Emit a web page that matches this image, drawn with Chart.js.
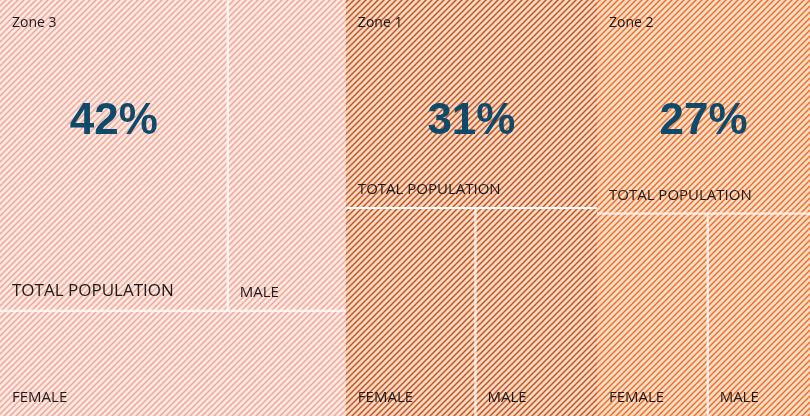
<!DOCTYPE html>
<html>
<head>
<meta charset="utf-8">
<script src="https://cdn.jsdelivr.net/npm/chart.js@4/dist/chart.umd.min.js"></script>
<style>
  html, body { margin: 0; padding: 0; background: #ffffff; }
  #wrap { width: 810px; height: 416px; position: relative; }
</style>
</head>
<body>
<div id="wrap"><canvas id="zoneTreemap"></canvas></div>
<script>
// Population split per zone (share of overall population, %)
const zones = ['Zone 3', 'Zone 1', 'Zone 2'];
const leafLabels = ['TOTAL POPULATION', 'MALE', 'FEMALE'];
const totalPopulation = [42, 31, 27];
const male = [21.8, 15, 12.3];
const female = [21.6, 16, 13.3];

// fill colours for each zone: tint + stripe
const zoneColors = [
  { bg: '#fde9e3', stripe: '#f3a796' },
  { bg: '#f9dac9', stripe: '#c6561c' },
  { bg: '#fddfcb', stripe: '#f16f26' }
];

function stripePattern(ctx, bg, stripe) {
  const tile = document.createElement('canvas');
  tile.width = 6; tile.height = 6;
  const t = tile.getContext('2d');
  t.fillStyle = bg;
  t.fillRect(0, 0, 6, 6);
  t.strokeStyle = stripe;
  t.lineWidth = 1.5;
  t.beginPath();
  t.moveTo(-1, 7); t.lineTo(7, -1);
  t.moveTo(-4, 4); t.lineTo(4, -4);
  t.moveTo(2, 10); t.lineTo(10, 2);
  t.stroke();
  return ctx.createPattern(tile, 'repeat');
}

function ratio(w, h) { return Math.max(w / h, h / w); }

// squarified-style layout: keep growing a row while its leading item gets squarer
function layout(items, rect) {
  const out = [];
  let r = { ...rect };
  let i = 0;
  while (i < items.length) {
    const rest = items.slice(i).reduce((s, d) => s + d.value, 0);
    const wide = r.w >= r.h;
    const side = wide ? r.h : r.w;
    const span = wide ? r.w : r.h;
    const firstRatio = (sum) => {
      const thick = span * sum / rest;
      return ratio(thick, side * items[i].value / sum);
    };
    let sum = items[i].value;
    let j = i + 1;
    while (j < items.length && firstRatio(sum + items[j].value) < firstRatio(sum)) {
      sum += items[j].value;
      j++;
    }
    const thick = j === items.length ? span : span * sum / rest;
    let off = 0;
    for (let k = i; k < j; k++) {
      const len = side * items[k].value / sum;
      out.push(wide
        ? { item: items[k], x: r.x, y: r.y + off, w: thick, h: len }
        : { item: items[k], x: r.x + off, y: r.y, w: len, h: thick });
      off += len;
    }
    r = wide
      ? { x: r.x + thick, y: r.y, w: r.w - thick, h: r.h }
      : { x: r.x, y: r.y + thick, w: r.w, h: r.h - thick };
    i = j;
  }
  return out;
}

const treemapPlugin = {
  id: 'treemapPlugin',
  beforeDatasetsDraw(chart) {
    const { ctx, chartArea, scales } = chart;
    const W = chartArea.width, H = chartArea.height;
    const px = (v) => scales.x.getPixelForValue(v / W);
    const py = (v) => scales.y.getPixelForValue(v / H);

    const zoneItems = zones.map((name, z) => {
      const children = [
        { label: leafLabels[0], value: totalPopulation[z] },
        { label: leafLabels[1], value: male[z] },
        { label: leafLabels[2], value: female[z] }
      ].sort((a, b) => b.value - a.value);
      return { name, z, children, value: children.reduce((s, c) => s + c.value, 0) };
    }).sort((a, b) => b.value - a.value);

    const zoneRects = layout(zoneItems, { x: 0, y: 0, w: W, h: H });

    zoneRects.forEach((zr) => {
      const z = zr.item.z;
      const col = zoneColors[z];
      const zx = px(zr.x), zy = py(zr.y), zw = px(zr.x + zr.w) - zx, zh = py(zr.y + zr.h) - zy;
      const leaves = layout(zr.item.children, { x: zr.x, y: zr.y, w: zr.w, h: zr.h });

      ctx.save();
      ctx.fillStyle = stripePattern(ctx, col.bg, col.stripe);
      ctx.fillRect(zx, zy, zw, zh);

      leaves.forEach((lf) => {
        const x0 = px(lf.x), y0 = py(lf.y), x1 = px(lf.x + lf.w), y1 = py(lf.y + lf.h);
        // soft inner shading along the cell edges
        ctx.save();
        ctx.beginPath();
        ctx.rect(x0, y0, x1 - x0, y1 - y0);
        ctx.clip();
        ctx.shadowColor = col.stripe + '44';
        ctx.shadowBlur = 7;
        ctx.strokeStyle = col.stripe + '33';
        ctx.lineWidth = 6;
        ctx.strokeRect(x0 - 3, y0 - 3, x1 - x0 + 6, y1 - y0 + 6);
        ctx.restore();

        // white gutters between cells inside a zone
        ctx.fillStyle = '#ffffff';
        if (x0 - zx > 0.5) ctx.fillRect(x0, y0, 1, y1 - y0);
        if (zx + zw - x1 > 0.5) ctx.fillRect(x1 - 1, y0, 1, y1 - y0);
        if (y0 - zy > 0.5) ctx.fillRect(x0, y0, x1 - x0, 1);
        if (zy + zh - y1 > 0.5) ctx.fillRect(x0, y1 - 1, x1 - x0, 1);

        // cell label
        const big = lf.item.label === leafLabels[0] && (y1 - y0) > 260;
        ctx.fillStyle = '#1b1b1b';
        ctx.font = (big ? '17px' : '15px') + ' "Open Sans", sans-serif';
        ctx.textAlign = 'left';
        ctx.textBaseline = 'alphabetic';
        ctx.fillText(lf.item.label, x0 + 12, y1 - (big ? 15 : 14));

        if (lf.item.label === leafLabels[0]) {
          ctx.fillStyle = '#0f4a6a';
          ctx.font = 'bold 44px "Liberation Sans", Arial, sans-serif';
          ctx.textAlign = 'center';
          ctx.textBaseline = 'middle';
          ctx.fillText(lf.item.value + '%', (x0 + x1) / 2, zy + 122);
        }
      });

      ctx.fillStyle = '#1b1b1b';
      ctx.font = '14px "Open Sans", sans-serif';
      ctx.textAlign = 'left';
      ctx.textBaseline = 'alphabetic';
      ctx.fillText(zr.item.name, zx + 12, zy + 27);
      ctx.restore();
    });
  }
};

new Chart(document.getElementById('zoneTreemap').getContext('2d'), {
  type: 'scatter',
  data: { datasets: [] },
  options: {
    responsive: true,
    maintainAspectRatio: false,
    animation: false,
    layout: { padding: 0 },
    scales: {
      x: { type: 'linear', min: 0, max: 1, display: false },
      y: { type: 'linear', min: 0, max: 1, reverse: true, display: false }
    },
    plugins: { legend: { display: false }, tooltip: { enabled: false } }
  },
  plugins: [treemapPlugin]
});
</script>
</body>
</html>
